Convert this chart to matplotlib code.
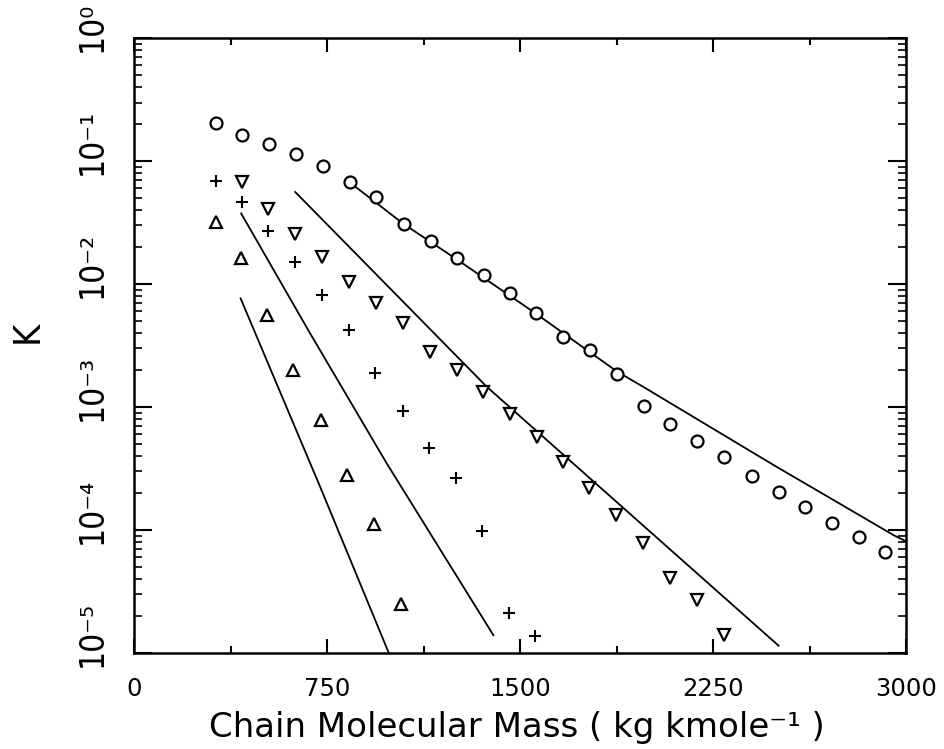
import numpy as np
import matplotlib.pyplot as plt
from matplotlib.ticker import LogLocator, NullFormatter, FixedLocator

# ---- measured points ----
circ_m = [319, 421, 525, 630, 733, 840, 940, 1047, 1153, 1256, 1360, 1461, 1562,
          1668, 1772, 1876, 1982, 2083, 2187, 2293, 2400, 2504, 2608, 2711, 2815, 2919]
circ_k = [0.205, 0.164, 0.139, 0.114, 0.091, 0.068, 0.051, 0.0308, 0.0225, 0.0163,
          0.0118, 0.0084, 0.00578, 0.00369, 0.00294, 0.00185, 0.00102, 0.00073,
          0.000532, 0.00039, 0.000277, 0.000205, 0.000153, 0.000115, 8.8e-5, 6.6e-5]

dtri_m = [419, 522, 626, 732, 836, 939, 1045, 1150, 1254, 1355, 1459, 1565, 1666,
          1769, 1873, 1979, 2083, 2187, 2293]
dtri_k = [0.068, 0.0407, 0.0258, 0.0165, 0.01045, 0.00697, 0.00479, 0.00279, 0.0020,
          0.00133, 0.000877, 0.000574, 0.000359, 0.000221, 0.000132, 7.9e-5, 4.1e-5,
          2.7e-5, 1.4e-5]

plus_m = [318, 419, 522, 626, 730, 834, 937, 1043, 1147, 1250, 1351, 1455, 1559]
plus_k = [0.0687, 0.0467, 0.0272, 0.0152, 0.00824, 0.00423, 0.00188, 0.000933,
          0.000467, 0.000266, 9.8e-5, 2.1e-5, 1.37e-5]

utri_m = [318, 416, 518, 619, 726, 829, 933, 1038]
utri_k = [0.0321, 0.0162, 0.0056, 0.0020, 0.000783, 0.00028, 0.000112, 2.5e-5]

# ---- model curves ----
fit1_m = [852, 1047, 1256, 1562, 1876, 1979, 2484, 2951, 3000]
fit1_k = [0.0638, 0.0309, 0.0158, 0.00575, 0.00195, 0.00146, 0.000339, 9.1e-5, 8.1e-5]

fit2_m = [626, 1371, 2504]
fit2_k = [0.0562, 0.00146, 1.15e-5]

fit3_m = [416, 684, 982, 1396]
fit3_k = [0.0376, 0.00398, 0.000348, 1.4e-5]

fit4_m = [414, 723, 990]
fit4_k = [0.00766, 0.000225, 1.0e-5]

xticks = [0, 750, 1500, 2250, 3000]
xminor = [375, 1125, 1875, 2625]
ydecades = [-5, -4, -3, -2, -1, 0]
ylabels = ["10⁻⁵", "10⁻⁴", "10⁻³", "10⁻²", "10⁻¹", "10⁰"]

fig = plt.figure(figsize=(9.44, 7.49), dpi=100)
ax = fig.add_axes([0.142, 0.128, 0.818, 0.821])

for xm, yk in [(fit1_m, fit1_k), (fit2_m, fit2_k), (fit3_m, fit3_k), (fit4_m, fit4_k)]:
    ax.plot(xm, yk, color="black", lw=1.3)

ax.plot(circ_m, circ_k, "o", ms=8.6, mfc="white", mec="black", mew=1.6, ls="none")
ax.plot(dtri_m, dtri_k, "v", ms=8, mfc="white", mec="black", mew=1.6, ls="none")
ax.plot(plus_m, plus_k, "+", ms=9, mec="black", mew=1.5, ls="none")
ax.plot(utri_m, utri_k, "^", ms=8, mfc="white", mec="black", mew=1.6, ls="none")

ax.set_yscale("log")
ax.set_xlim(0, 3000)
ax.set_ylim(1e-5, 1)

ax.xaxis.set_major_locator(FixedLocator(xticks))
ax.xaxis.set_minor_locator(FixedLocator(xminor))
ax.set_xticklabels([str(v) for v in xticks], fontsize=17.5)

ax.yaxis.set_major_locator(FixedLocator([10.0 ** d for d in ydecades]))
ax.yaxis.set_minor_locator(LogLocator(base=10, subs=np.arange(2, 10)))
ax.yaxis.set_minor_formatter(NullFormatter())

ax.tick_params(axis="x", which="major", direction="in", length=10, width=1.5,
               top=True, pad=17)
ax.tick_params(axis="x", which="minor", direction="in", length=5, width=1.5, top=True)
ax.tick_params(axis="y", which="major", direction="in", length=13, width=1.5,
               right=True, labelleft=False)
ax.tick_params(axis="y", which="minor", direction="in", length=6, width=1.2, right=True)

# rotated decade labels, "10" centred on the tick
for d, lab in zip(ydecades, ylabels):
    ax.annotate(lab, xy=(0, 10.0 ** d), xycoords=("axes fraction", "data"),
                xytext=(-30, -10), textcoords="offset points",
                rotation=90, rotation_mode="anchor", ha="left", va="center",
                fontsize=24, fontstretch="condensed", annotation_clip=False)

for s in ax.spines.values():
    s.set_linewidth(1.8)

ax.set_xlabel("Chain Molecular Mass ( kg kmole⁻¹ )", fontsize=24.5)
ax.xaxis.set_label_coords(0.496, -0.094)

fig.text(0.029, 0.557, "K", rotation=90, fontsize=27, ha="center", va="center",
         fontstretch="condensed")

fig.savefig("out.png", dpi=100)
